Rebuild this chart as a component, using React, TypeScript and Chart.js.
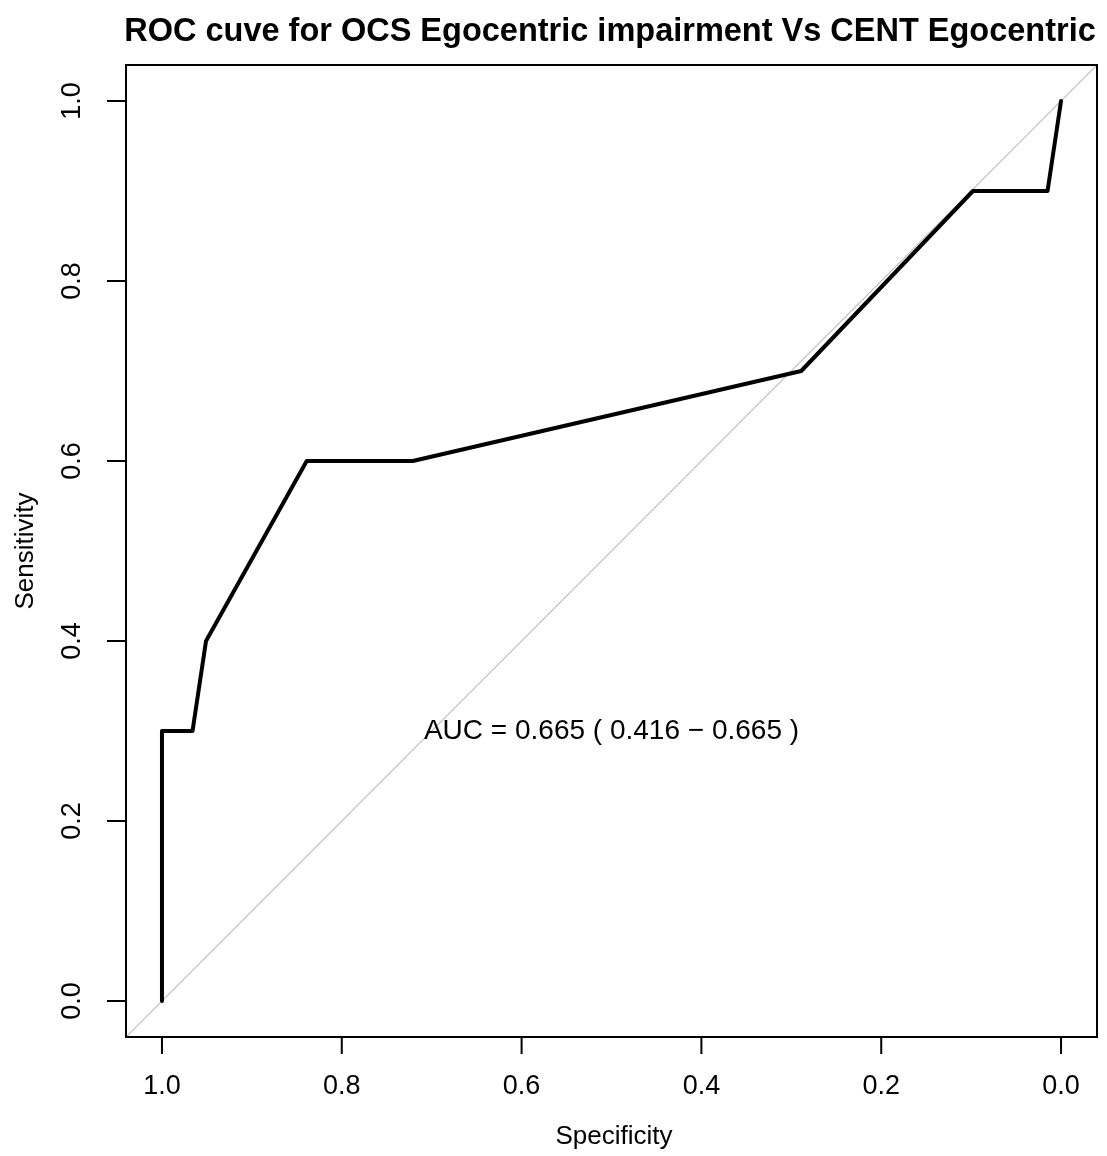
import React, { useEffect, useRef } from "react";
import { Chart, registerables } from "chart.js";

Chart.register(...registerables);

// ROC curve points
const specificity = [1.0, 1.0, 0.966, 0.951, 0.839, 0.721, 0.289, 0.098, 0.015, 0.0];
const sensitivity = [0.0, 0.3, 0.3, 0.4, 0.6, 0.6, 0.7, 0.9, 0.9, 1.0];

// Identity (chance) line, spanning the full plot region
const diagSpecificity = [1.04, -0.04];
const diagSensitivity = [-0.04, 1.04];

const tickValues = [1.0, 0.8, 0.6, 0.4, 0.2, 0.0];
const tickLabels = ["1.0", "0.8", "0.6", "0.4", "0.2", "0.0"];

const titleText = "ROC cuve for OCS Egocentric impairment Vs CENT Egocentric";
const xTitle = "Specificity";
const yTitle = "Sensitivity";
const aucText = "AUC = 0.665 ( 0.416 \u2212 0.665 )";
const aucPosition = { spec: 0.5, sens: 0.3 };

const FONT = '"Liberation Sans", Arial, Helvetica, sans-serif';

const rAxesPlugin = {
  id: "rAxes",
  afterDraw(chart: any) {
    const ctx = chart.ctx;
    const { left, right, top, bottom } = chart.chartArea;
    const xs = chart.scales.x;
    const ys = chart.scales.y;
    ctx.save();
    ctx.strokeStyle = "#000";
    ctx.fillStyle = "#000";
    ctx.lineWidth = 2;
    ctx.strokeRect(left, top, right - left, bottom - top);

    // x ticks
    ctx.font = `27px ${FONT}`;
    ctx.textAlign = "center";
    ctx.textBaseline = "middle";
    tickValues.forEach((v, i) => {
      const px = xs.getPixelForValue(v);
      ctx.beginPath();
      ctx.moveTo(px, bottom);
      ctx.lineTo(px, bottom + 17);
      ctx.stroke();
      ctx.fillText(tickLabels[i], px, 1087);
    });

    // y ticks
    tickValues.forEach((v, i) => {
      const py = ys.getPixelForValue(v);
      ctx.beginPath();
      ctx.moveTo(left, py);
      ctx.lineTo(left - 19, py);
      ctx.stroke();
      ctx.save();
      ctx.translate(73, py);
      ctx.rotate(-Math.PI / 2);
      ctx.fillText(tickLabels[i], 0, 0);
      ctx.restore();
    });

    // axis titles
    ctx.font = `26px ${FONT}`;
    ctx.fillText(xTitle, 614, 1137);
    ctx.save();
    ctx.translate(26, (top + bottom) / 2);
    ctx.rotate(-Math.PI / 2);
    ctx.fillText(yTitle, 0, 0);
    ctx.restore();

    // main title
    ctx.font = `bold 32.5px ${FONT}`;
    ctx.textBaseline = "alphabetic";
    ctx.fillText(titleText, 610, 41);

    // AUC annotation
    ctx.font = `28px ${FONT}`;
    ctx.textBaseline = "middle";
    ctx.fillText(
      aucText,
      xs.getPixelForValue(aucPosition.spec),
      ys.getPixelForValue(aucPosition.sens)
    );
    ctx.restore();
  },
};

export default function App() {
  const canvasRef = useRef<HTMLCanvasElement | null>(null);

  useEffect(() => {
    document.body.style.margin = "0";
    const canvas = canvasRef.current;
    if (!canvas) return;
    const rocData = specificity.map((s, i) => ({ x: s, y: sensitivity[i] }));
    const diagData = diagSpecificity.map((s, i) => ({ x: s, y: diagSensitivity[i] }));
    const chart = new Chart(canvas, {
      type: "line",
      data: {
        datasets: [
          {
            label: "ROC",
            data: rocData,
            borderColor: "#000000",
            borderWidth: 4,
            pointRadius: 0,
            tension: 0,
            fill: false,
            borderJoinStyle: "round",
            borderCapStyle: "round",
          },
          {
            label: "Identity",
            data: diagData,
            borderColor: "#BEBEBE",
            borderWidth: 1.2,
            pointRadius: 0,
            tension: 0,
            fill: false,
          },
        ],
      },
      options: {
        responsive: false,
        animation: false,
        events: [],
        layout: { padding: { left: 126, right: 10, top: 65, bottom: 119 } },
        plugins: {
          legend: { display: false },
          tooltip: { enabled: false },
          title: { display: false },
        },
        scales: {
          x: { type: "linear", reverse: true, min: -0.04, max: 1.04, display: false },
          y: { type: "linear", min: -0.04, max: 1.04, display: false },
        },
      },
      plugins: [rAxesPlugin],
    });
    return () => chart.destroy();
  }, []);

  return (
    <div style={{ width: 1107, height: 1156, background: "#fff" }}>
      <canvas ref={canvasRef} width={1107} height={1156} style={{ display: "block" }} />
    </div>
  );
}
